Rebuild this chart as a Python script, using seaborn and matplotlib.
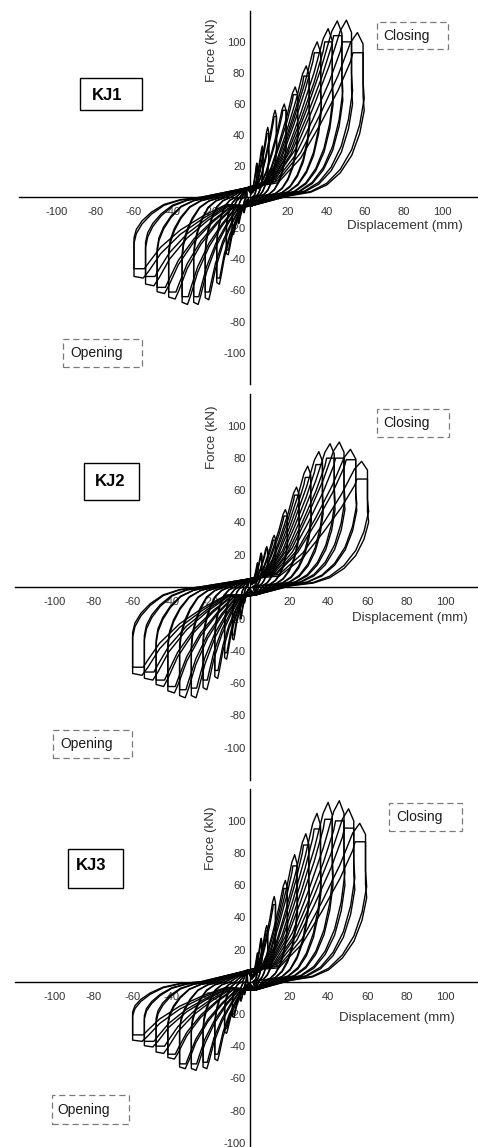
import matplotlib
matplotlib.use('Agg')

import matplotlib.pyplot as plt
from matplotlib.patches import Rectangle
import pandas as pd
import seaborn as sns

# ---- peak values of every load level (mm / kN) ----
# first cycle peak and repeated (second) cycle peak for each level
kj1_pos_amp = [4, 7, 10, 14, 19, 25, 31, 37, 43, 48, 53, 59]
kj1_pos_peak = [22, 33, 45, 56, 60, 71, 84.5, 100, 108.5, 113.5, 114, 106]
kj1_pos_rep = [20, 30, 41, 52, 56, 66, 78, 93, 100, 104, 100, 93]
kj1_neg_amp = [-3, -6, -9, -12, -17, -23, -29, -35, -42, -48, -54, -60]
kj1_neg_peak = [-10, -17, -24, -37, -56, -66, -69, -69, -65.5, -62, -57, -52]
kj1_neg_rep = [-9, -15, -22, -34, -52, -61, -64, -64, -61, -58, -51, -46]

kj2_pos_amp = [4, 6, 9, 13, 19, 25, 31, 37, 43, 48, 54, 60]
kj2_pos_peak = [15, 21, 25, 32, 48, 62, 75, 84, 89, 90, 85.5, 78]
kj2_pos_rep = [13, 19, 23, 29, 44, 57, 68, 76, 80, 80, 79, 67]
kj2_neg_amp = [-3, -5, -9, -13, -18, -24, -30, -36, -42, -48, -54, -60]
kj2_neg_peak = [-10, -20, -33, -45, -57, -64, -69, -69, -66, -62, -58, -55]
kj2_neg_rep = [-9, -18, -30, -41, -52, -58, -63, -64, -62, -58, -53, -50]

kj3_pos_amp = [4, 6, 9, 13, 19, 24, 30, 36, 42, 48, 53, 59]
kj3_pos_peak = [18, 27, 35, 53, 63, 79, 92, 104.7, 111.5, 112.5, 107.5, 98.5]
kj3_pos_rep = [16, 24, 32, 48, 58, 72, 85, 95, 101, 100, 95.5, 87]
kj3_neg_amp = [-3, -5, -9, -13, -18, -24, -30, -36, -42, -48, -54, -60]
kj3_neg_peak = [-8, -12, -22, -32, -49, -54, -55, -54, -48, -44.5, -40.5, -37]
kj3_neg_rep = [-7, -11, -20, -29, -45, -50, -51, -51, -45, -40, -37, -33]

# pinching points near the origin (upper / lower)
kj1_pinch = [(-1.5, 6), (1, -5.5)]
kj2_pinch = [(0, 5), (3, -5)]
kj3_pinch = [(-1.5, 7), (3, -5)]

# loop outline as fractions of (amplitude, peak force)
pos_load_fx = [0.25, 0.45, 0.62, 0.78, 0.89]
pos_load_fy = [0.1, 0.27, 0.5, 0.74, 0.94]
neg_load_fx = [0.2, 0.4, 0.6, 0.77, 0.87]
neg_load_fy = [0.1, 0.26, 0.46, 0.7, 0.91]
pos_cap_fx = [0.95, 1.0]
pos_cap_fy = [1.0, 0.93]
neg_cap_fx = [0.92, 1.0]
neg_cap_fy = [1.0, 0.98]
rep_cap_fx = [0.91, 1.0]
rep_cap_fy = [1.0, 1.0]
pos_unload_fx = [1.0, 1.01, 0.97, 0.9, 0.8, 0.68, 0.54, 0.35]
pos_unload_fy = [0.7, 0.6, 0.44, 0.29, 0.17, 0.085, 0.035, 0.01]
neg_unload_fx = [1.0, 0.98, 0.93, 0.85, 0.74, 0.6, 0.42]
neg_unload_fy = [0.57, 0.45, 0.33, 0.21, 0.1, 0.035, 0.0]

ticks = [-120, -100, -80, -60, -40, -20, 20, 40, 60, 80, 100, 120]
tick_labels = ['' if abs(t) == 120 else str(t) for t in ticks]


def loop_frame(pos_amp, pos_peak, pos_rep, neg_amp, neg_peak, neg_rep, pinch):
    rows = []
    n = 0
    for i in range(len(pos_amp)):
        for first in (True, False):
            dp = pos_amp[i]
            fp = pos_peak[i] if first else pos_rep[i]
            dn = neg_amp[i]
            fn = neg_peak[i] if first else neg_rep[i]
            pts = [pinch[0]]
            pts += [(a * dp, b * fp) for a, b in zip(pos_load_fx, pos_load_fy)]
            cx, cy = (pos_cap_fx, pos_cap_fy) if first else (rep_cap_fx, rep_cap_fy)
            pts += [(a * dp, b * fp) for a, b in zip(cx, cy)]
            pts += [(a * dp, b * fp) for a, b in zip(pos_unload_fx, pos_unload_fy)]
            pts.append(pinch[1])
            pts += [(a * dn, b * fn) for a, b in zip(neg_load_fx, neg_load_fy)]
            cx, cy = (neg_cap_fx, neg_cap_fy) if first else (rep_cap_fx, rep_cap_fy)
            pts += [(a * dn, b * fn) for a, b in zip(cx, cy)]
            pts += [(a * dn, b * fn) for a, b in zip(neg_unload_fx, neg_unload_fy)]
            pts.append(pinch[0])
            for k, (x, y) in enumerate(pts):
                rows.append({'loop': n, 'step': k, 'disp': x, 'force': y})
            n += 1
    return pd.DataFrame(rows)


sns.set_style("white")
plt.rcParams['font.family'] = ['Liberation Sans', 'DejaVu Sans']

W, H = 478, 1147
fig = plt.figure(figsize=(W / 100, H / 100), dpi=100)

panels = [
    dict(name='KJ1',
         data=(kj1_pos_amp, kj1_pos_peak, kj1_pos_rep, kj1_neg_amp, kj1_neg_peak, kj1_neg_rep, kj1_pinch),
         px=(18.5, 10.8, 462, 372.9), ylim=(-120, 117.5),
         kj_box=(-88, 56, 32, 20.6), kj_txt=(-74, 65.5),
         close_box=(66.4, 95.3, 36.9, 17.4), close_txt=(69.4, 103.8),
         open_box=(-96.7, -109.2, 40.7, 18.1), open_txt=(-93.2, -100.3),
         ylab=(-19.6, 94.6), xlab=(80.9, -18.5)),
    dict(name='KJ2',
         data=(kj2_pos_amp, kj2_pos_peak, kj2_pos_rep, kj2_neg_amp, kj2_neg_peak, kj2_neg_rep, kj2_pinch),
         px=(15.2, 393.8, 469.7, 386), ylim=(-120, 120),
         kj_box=(-84.8, 54, 28.1, 22.8), kj_txt=(-71.5, 65.4),
         close_box=(65, 93, 36.7, 17.4), close_txt=(68.1, 101.7),
         open_box=(-100.5, -106.7, 40.4, 17.7), open_txt=(-97.1, -97.8),
         ylab=(-19.3, 93.3), xlab=(81.9, -19.2)),
    dict(name='KJ3',
         data=(kj3_pos_amp, kj3_pos_peak, kj3_pos_rep, kj3_neg_amp, kj3_neg_peak, kj3_neg_rep, kj3_pinch),
         px=(15.2, 788.7, 469.7, 386.2), ylim=(-120, 120),
         kj_box=(-92.8, 58.1, 27.8, 24.2), kj_txt=(-81.1, 72),
         close_box=(71.2, 93.7, 37, 17.2), close_txt=(74.6, 102.2),
         open_box=(-101.3, -88.4, 39.6, 18), open_txt=(-98.3, -79.7),
         ylab=(-20.1, 89.4), xlab=(75, -22.3)),
]

for p in panels:
    l, t, w, h = p['px']
    y0, y1 = p['ylim']
    ax = fig.add_axes([l / W, 1 - (t + h) / H, w / W, h / H])

    df = loop_frame(*p['data'])
    sns.lineplot(data=df, x='disp', y='force', units='loop', estimator=None,
                 sort=False, color='black', lw=1.0, ax=ax, legend=False)

    ax.set_xlim(-120, 120)
    ax.set_ylim(y0, y1)
    ax.set_xlabel('')
    ax.set_ylabel('')
    ax.spines['left'].set_position(('data', 0))
    ax.spines['bottom'].set_position(('data', 0))
    ax.spines['top'].set_visible(False)
    ax.spines['right'].set_visible(False)
    for s in ('left', 'bottom'):
        ax.spines[s].set_color('black')
        ax.spines[s].set_linewidth(1.0)
    ax.set_xticks(ticks, tick_labels)
    ax.set_yticks(ticks, tick_labels)
    ax.tick_params(axis='both', direction='in', length=4, width=1,
                   color='black', labelcolor='#333333', labelsize=8)
    ax.tick_params(axis='x', pad=7)
    ax.tick_params(axis='y', pad=3)
    ax.patch.set_alpha(0)

    ax.text(*p['ylab'], 'Force (kN)', rotation=90, ha='center', va='center',
            fontsize=9.6, color='#333333')
    ax.text(*p['xlab'], 'Displacement (mm)', ha='center', va='center',
            fontsize=9.6, color='#333333')

    bx, by, bw, bh = p['kj_box']
    ax.add_patch(Rectangle((bx, by), bw, bh, fill=False, ec='black', lw=1.0, clip_on=False))
    ax.text(*p['kj_txt'], p['name'], ha='center', va='center',
            fontsize=12, fontweight='bold', color='black')

    for box, txt, label in ((p['close_box'], p['close_txt'], 'Closing'),
                            (p['open_box'], p['open_txt'], 'Opening')):
        bx, by, bw, bh = box
        ax.add_patch(Rectangle((bx, by), bw, bh, fill=False, ec='#7a7a7a', lw=0.9,
                               ls=(0, (5, 3)), clip_on=False))
        ax.text(*txt, label, ha='left', va='center', fontsize=10, color='#1a1a1a')

fig.savefig('out.png', dpi=100)
